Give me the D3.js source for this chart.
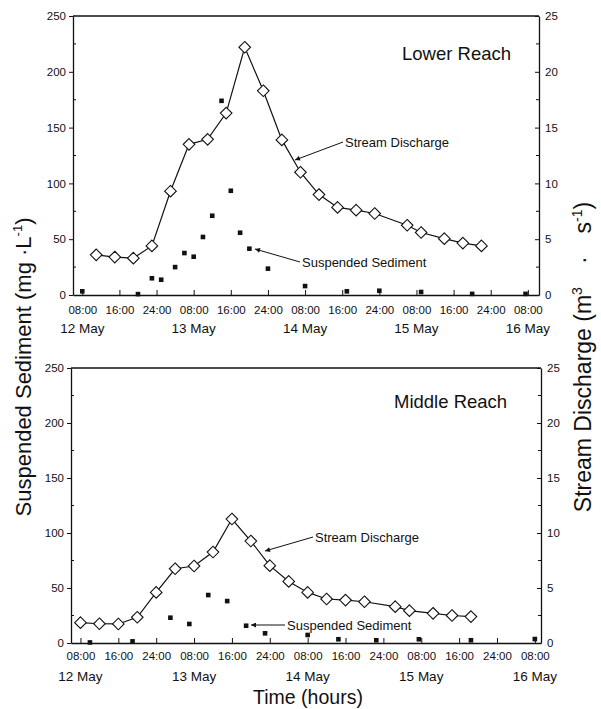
<!DOCTYPE html>
<html>
<head>
<meta charset="utf-8">
<script src="https://cdn.jsdelivr.net/npm/d3@7/dist/d3.min.js"></script>
<style>
  html, body { margin: 0; padding: 0; background: #fff; }
  svg { display: block; }
  text { font-family: "Liberation Sans", Arial, Helvetica, sans-serif; fill: #111; }
</style>
</head>
<body>
<svg id="chart" width="601" height="709"></svg>
<script>
// Hours are counted from 12 May 08:00.
const hourTicks = [0, 8, 16, 24, 32, 40, 48, 56, 64, 72, 80, 88, 96];
const hourLabels = ["08:00", "16:00", "24:00", "08:00", "16:00", "24:00", "08:00",
                    "16:00", "24:00", "08:00", "16:00", "24:00", "08:00"];
const dayTicks = [0, 24, 48, 72, 96];
const dayLabels = ["12 May", "13 May", "14 May", "15 May", "16 May"];

const sedimentTicks = [0, 50, 100, 150, 200, 250];
const dischargeTicks = [0, 5, 10, 15, 20, 25];

// Lower reach
const lowerQHours = [3, 7, 11, 15, 19, 23, 27, 31, 35, 39, 43, 47, 51, 55, 59, 63, 70, 73, 78, 82, 86];
const lowerQ = [3.6, 3.4, 3.3, 4.4, 9.3, 13.5, 13.95, 16.3, 22.2, 18.3, 13.9, 11.0, 9.0, 7.85, 7.6, 7.3, 6.25, 5.6, 5.05, 4.65, 4.4];
const lowerSedHours = [0, 12, 15, 17, 20, 22, 24, 26, 28, 30, 32, 34, 36, 40, 48, 57, 64, 73, 84, 95.5];
const lowerSed = [3.3, 0.8, 15, 13.7, 25, 37.6, 34.3, 52, 71, 174, 93.4, 55.8, 41.5, 23.6, 8, 3.3, 3.8, 2.7, 1, 1];

// Middle reach
const middleQHours = [0, 4, 8, 12, 16, 20, 24, 28, 32, 36, 40, 44, 48, 52, 56, 60, 66.5, 69.5, 74.5, 78.5, 82.5];
const middleQ = [1.85, 1.75, 1.73, 2.34, 4.6, 6.75, 7.0, 8.27, 11.27, 9.27, 7.03, 5.6, 4.6, 4.0, 3.9, 3.75, 3.3, 2.94, 2.7, 2.5, 2.4];
const middleSedHours = [2, 11, 19, 23, 27, 31, 35, 39, 48, 54.5, 62.5, 71.5, 82.5, 96];
const middleSed = [0.5, 1.5, 23, 17.3, 43.6, 38.1, 15.7, 8.8, 7.3, 3.4, 2.5, 3.4, 2.5, 3.6];

const svg = d3.select("#chart");

const defs = svg.append("defs");
defs.append("marker")
  .attr("id", "arrow")
  .attr("viewBox", "0 0 10 10")
  .attr("refX", 10).attr("refY", 5)
  .attr("markerWidth", 7).attr("markerHeight", 5)
  .attr("markerUnits", "userSpaceOnUse")
  .attr("orient", "auto")
  .append("path").attr("d", "M0,0 L10,5 L0,10 Z").attr("fill", "#111");

function panel(cfg) {
  const g = svg.append("g");
  const x = d3.scaleLinear().domain(cfg.xDomain).range([cfg.left, cfg.right]);
  const yS = d3.scaleLinear().domain([0, 250]).range([cfg.bottom, cfg.top]);
  const yQ = d3.scaleLinear().domain([0, 25]).range([cfg.bottom, cfg.top]);

  // frame top edge
  g.append("line")
    .attr("x1", cfg.left).attr("x2", cfg.right)
    .attr("y1", cfg.top).attr("y2", cfg.top)
    .attr("stroke", "#111").attr("stroke-width", 1.3);

  // left axis: labelled ticks outward, minor ticks inward
  const left = g.append("g").attr("transform", `translate(${cfg.left},0)`)
    .call(d3.axisLeft(yS).tickValues(sedimentTicks).tickSize(4).tickSizeOuter(0).tickPadding(3));
  left.append("g").selectAll("line").data([25, 75, 125, 175, 225]).join("line")
    .attr("x1", 0).attr("x2", 3).attr("y1", d => yS(d)).attr("y2", d => yS(d))
    .attr("stroke", "#111");

  // right axis: ticks inward
  const right = g.append("g").attr("transform", `translate(${cfg.right},0)`)
    .call(d3.axisRight(yQ).tickValues(dischargeTicks).tickSize(-4).tickSizeOuter(0).tickPadding(6));
  right.append("g").selectAll("line").data([2.5, 7.5, 12.5, 17.5, 22.5]).join("line")
    .attr("x1", 0).attr("x2", -3).attr("y1", d => yQ(d)).attr("y2", d => yQ(d))
    .attr("stroke", "#111");

  // bottom axis: hour ticks pointing up
  const bottom = g.append("g").attr("transform", `translate(0,${cfg.bottom})`)
    .call(d3.axisBottom(x).tickValues(hourTicks).tickSize(-5).tickSizeOuter(0).tickPadding(cfg.hourPad)
      .tickFormat((d, i) => hourLabels[i]));

  [left, right, bottom].forEach(a => {
    a.select(".domain").attr("stroke", "#111").attr("stroke-width", 1.3);
    a.selectAll(".tick line").attr("stroke", "#111");
    a.selectAll("text").attr("font-size", 11.5).attr("fill", "#111")
      .attr("font-family", "Liberation Sans, Arial, sans-serif");
  });

  g.append("g").selectAll("text").data(dayTicks).join("text")
    .attr("x", d => x(d)).attr("y", cfg.bottom + cfg.dayOffset)
    .attr("text-anchor", "middle").attr("font-size", 13.5)
    .text((d, i) => dayLabels[i]);

  // discharge line and diamonds
  const pts = cfg.qHours.map((h, i) => [x(h), yQ(cfg.q[i])]);
  g.append("path").attr("d", d3.line()(pts))
    .attr("fill", "none").attr("stroke", "#111").attr("stroke-width", 1.2);
  g.append("g").selectAll("path").data(pts).join("path")
    .attr("transform", d => `translate(${d[0]},${d[1]})`)
    .attr("d", "M0,-5.8 L5.8,0 L0,5.8 L-5.8,0 Z")
    .attr("fill", "#fff").attr("stroke", "#111").attr("stroke-width", 1.1);

  // suspended sediment squares
  g.append("g").selectAll("rect").data(cfg.sedHours).join("rect")
    .attr("x", d => x(d) - 2.3)
    .attr("y", (d, i) => yS(cfg.sed[i]) - 2.3)
    .attr("width", 4.6).attr("height", 4.6)
    .attr("fill", "#111");

  // panel title
  g.append("text").attr("x", cfg.titleX).attr("y", cfg.titleY)
    .attr("font-size", 18.5).text(cfg.title);

  // callouts
  cfg.notes.forEach(n => {
    g.append("line")
      .attr("x1", n.from[0]).attr("y1", n.from[1])
      .attr("x2", n.to[0]).attr("y2", n.to[1])
      .attr("stroke", "#111").attr("stroke-width", 1)
      .attr("marker-end", "url(#arrow)");
    g.append("text").attr("x", n.from[0] + 2).attr("y", n.from[1] + 4.5)
      .attr("font-size", 13).text(n.text);
  });
}

panel({
  left: 73, right: 539, top: 16, bottom: 295,
  xDomain: [-2, 98.4], hourPad: 11, dayOffset: 38,
  qHours: lowerQHours, q: lowerQ, sedHours: lowerSedHours, sed: lowerSed,
  title: "Lower Reach", titleX: 402, titleY: 60,
  notes: [
    { text: "Stream Discharge", from: [343, 142], to: [295, 160] },
    { text: "Suspended Sediment", from: [300, 262], to: [255, 249] }
  ]
});

panel({
  left: 71, right: 541, top: 368, bottom: 643,
  xDomain: [-2, 97.3], hourPad: 9, dayOffset: 38,
  qHours: middleQHours, q: middleQ, sedHours: middleSedHours, sed: middleSed,
  title: "Middle Reach", titleX: 394, titleY: 408,
  notes: [
    { text: "Stream Discharge", from: [313, 537], to: [265, 551] },
    { text: "Suspended Sediment", from: [285, 625], to: [251, 625] }
  ]
});

// axis titles
const lt = svg.append("text")
  .attr("transform", "translate(31,367) rotate(-90)")
  .attr("text-anchor", "middle").attr("font-size", 22);
lt.append("tspan").text("Suspended Sediment (mg \u00B7L");
lt.append("tspan").attr("dy", -9).attr("font-size", 13).text("-1");
lt.append("tspan").attr("dy", 9).text(")");

const rt = svg.append("text")
  .attr("transform", "translate(591,357) rotate(-90)")
  .attr("text-anchor", "middle").attr("font-size", 23);
rt.append("tspan").text("Stream Discharge (m");
rt.append("tspan").attr("dy", -9).attr("font-size", 14).text("3");
rt.append("tspan").attr("dy", 9).text("\u2003\u00B7\u2003s");
rt.append("tspan").attr("dy", -9).attr("font-size", 14).text("-1");
rt.append("tspan").attr("dy", 9).text(")");

svg.append("text").attr("x", 308).attr("y", 704)
  .attr("text-anchor", "middle").attr("font-size", 19.5).text("Time (hours)");
</script>
</body>
</html>
